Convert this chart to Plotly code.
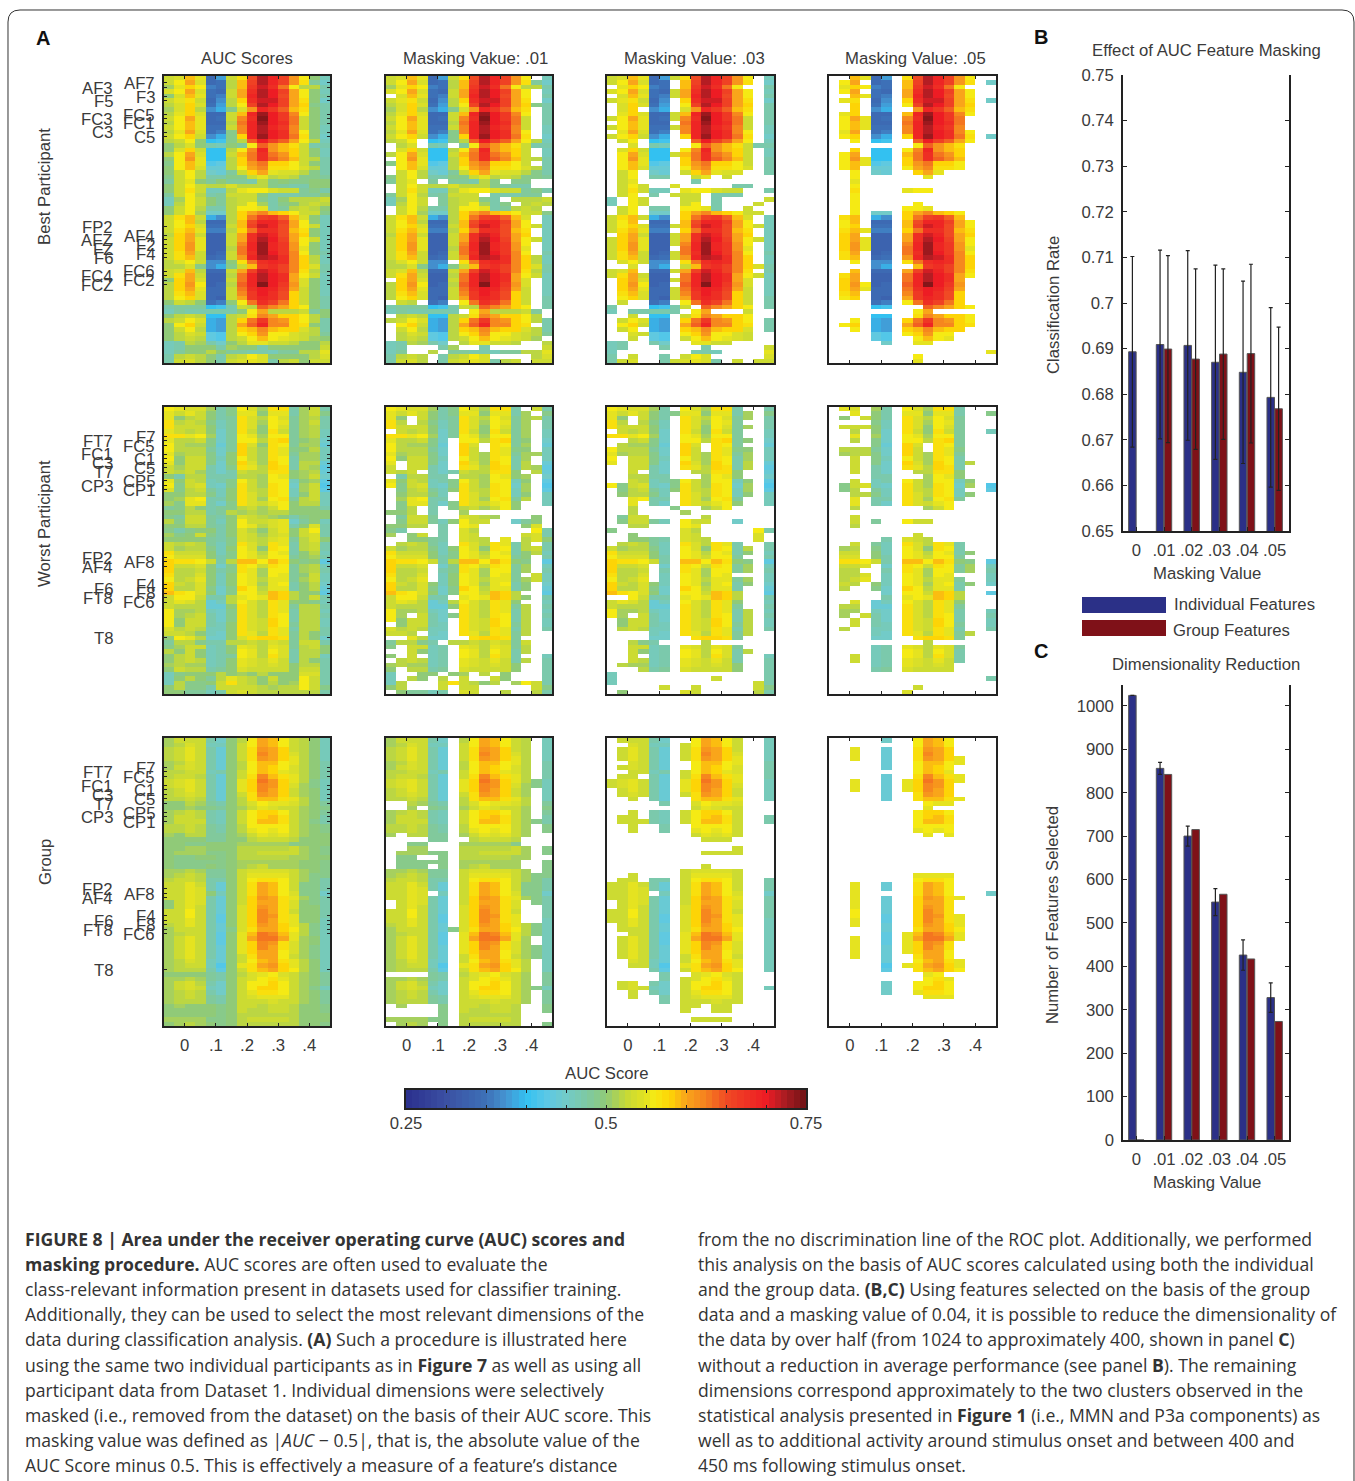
import numpy as np
import plotly.graph_objects as go

W, H = 1355, 1481
FONT = "Liberation Sans"
TXT = "#3a3a3a"

# ---- AUC scores in hundredths, 64 channels (rows) x 16 time points (columns)
BEST = [
[53,54,59,55,34,38,53,57,65,72,69,66,61,56,50,46],
[53,56,60,54,34,35,52,59,66,72,69,66,61,57,48,45],
[51,55,58,56,36,35,52,59,67,71,68,63,56,52,52,47],
[54,56,60,54,35,34,53,60,68,72,70,66,60,56,50,46],
[50,54,59,55,35,36,53,60,69,72,70,65,60,56,50,47],
[53,55,57,53,34,37,52,58,68,71,71,66,60,57,50,45],
[52,54,58,54,35,38,52,56,66,72,70,66,60,58,49,47],
[51,54,58,52,37,39,49,54,61,69,67,64,59,57,50,47],
[52,55,58,54,34,34,53,59,69,73,70,67,62,56,50,47],
[53,56,60,55,34,35,53,62,68,74,70,67,63,53,50,47],
[52,56,59,55,34,34,52,63,69,73,70,68,63,53,50,47],
[53,56,59,55,35,35,53,62,69,72,69,67,62,53,50,46],
[52,55,60,54,35,36,49,62,69,72,70,68,62,56,50,46],
[53,56,58,53,37,39,49,58,69,73,70,68,63,57,50,45],
[52,53,56,50,40,41,49,52,64,70,66,64,60,56,52,46],
[50,52,54,50,47,46,50,48,56,64,61,59,57,53,47,47],
[50,54,58,53,40,40,52,56,62,69,61,59,58,53,50,46],
[52,56,60,54,40,40,53,59,63,68,63,61,58,53,50,46],
[50,56,61,55,40,40,52,58,63,68,64,62,59,53,52,47],
[49,56,59,55,42,43,52,58,61,63,58,58,56,53,50,47],
[50,56,59,54,44,44,52,56,60,62,57,57,56,54,52,47],
[50,53,56,52,45,44,48,53,58,60,55,54,54,52,49,47],
[49,53,56,52,47,47,49,49,53,55,52,53,52,49,49,48],
[48,53,55,50,48,50,48,48,47,52,49,50,49,49,50,50],
[50,53,56,53,52,52,54,52,52,52,49,48,47,47,50,50],
[50,53,57,53,46,46,52,55,56,56,54,53,53,48,49,47],
[48,53,56,52,47,48,53,53,53,50,47,47,47,48,48,50],
[46,51,56,53,50,48,52,53,53,49,47,50,52,52,52,53],
[46,52,56,53,50,48,52,53,56,51,47,49,50,52,53,52],
[50,53,56,52,47,47,52,56,56,55,47,48,52,53,52,50],
[50,53,56,51,45,45,52,58,60,62,59,58,56,53,53,49],
[53,57,59,53,39,37,52,58,63,66,67,64,59,54,50,46],
[53,56,59,52,34,34,52,59,65,69,69,66,60,56,50,46],
[53,56,58,54,35,35,53,59,66,71,69,65,60,56,53,46],
[53,57,59,55,36,36,52,58,63,68,68,65,59,57,50,46],
[52,58,60,53,33,33,53,60,68,71,69,65,60,58,50,46],
[53,58,60,55,33,33,53,60,68,72,70,66,60,56,53,46],
[53,58,61,55,33,33,53,62,69,73,69,67,61,56,50,46],
[53,58,61,55,33,33,52,63,69,73,69,67,61,55,50,46],
[53,57,60,53,33,34,53,63,68,73,70,67,62,56,50,47],
[53,57,59,53,34,35,53,61,69,72,71,68,62,58,52,46],
[52,54,56,53,37,37,50,57,63,68,69,68,62,58,52,46],
[52,52,54,49,37,39,49,53,59,67,68,66,62,58,54,47],
[53,54,59,52,34,34,53,60,66,71,69,66,62,57,52,47],
[53,57,60,53,33,33,52,63,69,72,70,68,60,56,53,46],
[50,58,60,54,33,33,53,63,69,72,70,68,60,54,50,46],
[52,58,61,56,33,34,52,64,69,74,70,67,61,54,50,46],
[52,58,60,55,34,34,53,63,68,70,69,66,60,53,50,46],
[52,57,59,54,34,34,53,62,67,70,68,65,58,53,50,46],
[52,56,58,54,34,33,53,60,67,69,68,65,58,53,50,47],
[50,53,52,50,35,36,50,56,63,68,66,63,58,53,50,47],
[47,48,48,48,40,41,47,53,52,64,62,60,58,56,50,47],
[46,48,47,47,47,47,47,50,56,60,52,52,52,53,48,50],
[50,52,53,52,40,40,52,53,57,62,60,58,58,56,52,50],
[52,53,56,54,39,38,52,58,63,67,62,61,58,56,52,47],
[50,56,58,53,39,38,52,60,64,69,62,62,58,57,50,47],
[50,53,56,52,39,38,52,58,59,62,59,58,58,54,52,47],
[50,52,54,53,43,42,52,56,58,61,56,56,54,53,52,48],
[50,52,53,52,43,42,52,53,56,59,56,55,54,53,51,50],
[46,47,52,51,47,45,50,52,55,55,53,53,52,50,50,52],
[46,47,50,50,50,47,51,50,50,47,50,50,50,50,50,53],
[46,48,50,50,52,50,48,48,47,47,46,48,48,52,52,55],
[47,52,53,52,50,47,52,53,56,54,50,50,50,50,52,54],
[47,53,54,52,50,47,53,54,55,54,47,52,53,50,53,53],
]

WORST = [
[56,55,54,54,51,47,49,56,54,51,57,57,47,51,53,47],
[55,53,55,53,50,47,49,55,55,50,55,55,47,51,53,49],
[55,50,52,53,50,47,48,57,54,52,56,54,48,51,52,47],
[57,52,53,52,49,46,48,57,54,51,56,55,48,51,53,47],
[57,53,53,53,50,46,48,57,54,50,56,54,48,51,52,47],
[55,53,52,53,50,45,48,57,53,50,57,53,48,51,52,46],
[57,57,55,56,51,45,48,56,55,51,56,56,48,51,52,46],
[55,52,52,53,49,45,48,56,56,52,57,58,48,50,51,45],
[56,52,51,51,49,44,48,58,54,50,57,56,48,51,51,44],
[56,52,52,52,48,45,48,58,53,51,57,55,49,50,52,46],
[55,51,52,52,49,45,50,58,53,51,57,55,48,51,51,46],
[56,50,53,53,49,46,50,56,53,51,57,56,47,51,51,46],
[55,50,53,53,49,45,50,58,54,51,58,56,47,52,52,44],
[53,51,53,53,47,45,49,57,55,52,58,57,47,52,51,43],
[53,52,53,51,47,45,47,53,52,52,57,57,50,51,52,44],
[50,47,52,52,47,47,47,52,52,51,56,55,50,51,53,45],
[55,50,53,52,46,47,49,56,53,51,56,56,46,50,51,43],
[56,49,53,54,46,45,49,57,53,51,57,56,45,51,53,42],
[54,49,52,53,48,46,50,57,53,52,57,56,46,51,53,43],
[50,50,52,52,49,46,50,57,54,52,57,56,46,50,53,46],
[50,51,55,56,47,47,50,57,54,51,56,57,48,52,53,46],
[51,49,55,55,47,45,49,57,54,53,55,56,50,52,52,46],
[48,49,52,50,47,48,49,52,53,51,53,56,50,50,50,47],
[50,50,52,52,47,48,52,51,52,51,52,52,50,50,50,50],
[49,48,53,53,48,47,50,54,53,52,51,50,47,49,50,50],
[52,49,53,53,48,46,50,56,53,53,54,55,45,48,50,46],
[50,50,52,52,48,47,50,56,55,52,54,55,47,50,54,47],
[49,47,49,50,50,47,50,54,52,50,53,55,50,53,56,47],
[51,49,50,53,49,47,50,54,53,51,53,54,50,53,54,47],
[50,50,50,50,48,47,49,54,53,52,54,55,48,52,54,50],
[53,52,53,52,48,46,49,57,54,52,57,55,47,52,53,47],
[53,51,52,52,49,46,50,56,54,50,57,56,47,52,53,47],
[57,53,53,53,50,46,49,56,55,52,56,55,47,50,52,46],
[56,54,54,54,50,47,49,56,55,53,56,56,48,50,51,47],
[58,57,57,56,53,47,52,59,59,56,59,57,50,49,50,43],
[58,53,53,54,50,45,49,57,56,53,57,56,48,51,52,46],
[58,52,52,53,50,47,49,57,55,51,56,56,48,51,52,47],
[57,52,52,54,50,46,50,56,55,51,56,55,48,50,53,46],
[56,52,53,55,50,46,50,56,55,52,55,55,48,51,53,46],
[58,53,52,54,50,46,50,56,55,51,55,56,47,50,52,45],
[58,52,52,54,49,45,49,58,56,52,55,55,47,50,52,44],
[59,57,56,54,50,45,49,56,56,53,59,58,52,50,50,43],
[53,56,56,53,47,47,52,55,56,55,59,58,52,50,53,47],
[53,55,54,52,44,46,52,56,54,52,57,55,50,50,49,46],
[53,52,52,52,44,44,50,57,54,52,57,55,48,52,52,47],
[56,51,51,52,46,45,49,57,54,52,57,55,47,52,52,46],
[56,51,52,53,47,45,49,57,54,52,57,56,47,52,52,47],
[56,50,53,53,47,45,49,57,54,53,58,56,47,52,52,46],
[56,50,53,53,47,46,50,57,54,53,58,56,48,52,52,46],
[54,52,53,52,46,46,50,57,54,53,57,55,47,52,52,47],
[53,53,52,50,46,45,50,57,55,52,57,55,48,52,50,47],
[50,56,55,52,45,45,50,54,57,58,58,57,48,52,50,45],
[48,52,52,49,47,47,52,52,53,52,54,53,48,53,53,47],
[49,51,53,53,46,47,50,55,54,52,55,54,48,52,53,50],
[52,50,53,50,46,47,50,56,55,52,56,54,47,52,52,50],
[50,52,53,50,46,47,48,56,55,52,57,54,47,52,52,46],
[50,52,53,52,46,47,50,55,54,53,55,53,47,52,50,47],
[51,52,51,51,46,47,50,55,54,53,54,53,50,52,52,47],
[50,53,52,52,47,48,50,54,53,53,53,53,50,53,53,47],
[46,49,50,50,50,52,50,51,50,52,50,50,50,54,54,47],
[46,50,52,50,48,52,55,53,52,50,53,50,50,56,53,47],
[46,52,49,49,50,53,57,53,52,50,52,50,51,56,53,47],
[50,52,49,49,47,53,53,53,53,52,51,52,52,56,53,49],
[50,50,48,48,46,47,53,54,53,52,52,52,52,52,52,47],
]

# worst participant: the last masking panel in which each cell is still shown
# (0 = white everywhere, 1 = only .01, 2 = .01 and .03, 3 = all three)
WORST_SHOWN = [
"2332331333333012","2232332333333203","2303331333333212","2202331333333102",
"2333331333333202","0232331333333103","2232331333333102","1132330333333202",
"1222330330333102","2333330330333202","2333330333333212","2132330333333202",
"2032330333333302","1032330333333212","1130331133333012","0122330113333102",
"1132332333333302","2333332333333303","0332332333333203","0233330333333302",
"0132330333333102","0131331333332002","0130102113331000","1120100200000000",
"0232100112100010","0232321333002110","1132010220000110","2100010220000022",
"1021010230000121","0022230333010121","0232330333333102","2332331333333212",
"2332331333333312","2332331333333102","2333331333333303","2333031333333303",
"2332031333333303","2333031333331013","2333031333333213","2332331333333303",
"2322331333333102","2222231333333003","1122230333333102","2232331333333002",
"2332331333333102","2332330333333203","2303331333333203","1232330333333203",
"0232330333333203","1322330333333203","1110330333333300","0011330033333000",
"1122201113111100","1022330333333100","0022330333333200","1030330333333002",
"0132330333333102","1222330333332002","1012330333332002","2001101101010002",
"2011010100210003","2100011111101122","1100020130000022","0211110320010022",
]

GROUP = [
[51,53,53,53,47,45,50,52,56,60,59,56,53,52,50,46],
[51,52,54,53,46,46,50,53,56,60,59,56,53,52,50,46],
[52,53,55,53,47,44,50,53,57,61,60,58,53,52,50,46],
[52,53,55,53,47,44,50,53,57,62,60,58,54,52,50,46],
[52,53,55,53,47,44,50,53,57,61,60,58,55,52,50,46],
[51,52,54,53,47,44,50,52,56,59,59,56,55,52,50,47],
[51,53,54,53,47,44,50,52,56,59,58,56,54,52,50,47],
[52,52,53,53,46,47,50,53,56,59,58,55,54,52,50,47],
[52,53,53,52,47,44,50,53,57,62,59,57,55,52,50,47],
[53,54,55,53,47,44,50,55,58,63,61,58,55,52,49,46],
[53,54,55,53,47,44,50,55,58,62,61,58,54,51,49,46],
[52,53,55,53,47,44,50,55,58,62,60,58,53,51,50,46],
[52,53,54,53,47,44,50,53,57,61,60,58,53,51,50,46],
[52,52,53,52,47,44,50,52,57,59,59,57,55,52,50,46],
[50,50,52,51,48,47,50,52,54,56,55,55,54,52,50,48],
[50,50,51,50,49,48,50,51,53,55,54,53,53,51,50,49],
[51,52,53,52,47,46,50,53,56,58,58,56,53,51,50,48],
[51,53,53,52,47,46,50,53,56,58,59,57,53,51,50,47],
[51,53,53,53,47,46,50,53,56,59,59,57,53,51,49,47],
[52,52,53,52,48,47,50,52,56,56,56,56,53,51,50,49],
[52,52,53,52,48,47,50,52,55,56,55,56,53,51,50,49],
[51,50,52,52,48,48,50,51,53,55,54,55,53,51,50,50],
[50,50,50,50,48,48,50,50,52,53,53,53,52,50,50,50],
[50,50,49,49,50,50,50,51,51,51,51,51,49,50,50,50],
[50,50,51,51,50,50,50,52,52,52,52,52,53,51,50,49],
[50,51,51,51,49,49,50,52,52,53,53,53,53,51,50,49],
[50,49,49,50,50,49,50,52,52,52,52,52,51,51,50,50],
[50,49,49,49,49,49,50,51,51,51,51,51,51,50,50,49],
[50,49,49,49,50,49,50,51,52,53,51,51,51,50,50,49],
[51,51,52,51,48,48,50,53,54,54,54,54,53,51,50,49],
[51,52,53,52,48,48,50,53,55,55,55,55,53,51,49,49],
[52,53,53,52,47,47,50,53,56,57,57,56,53,51,49,47],
[53,53,55,53,47,44,50,53,57,60,59,56,53,49,49,47],
[53,53,55,54,47,44,50,53,57,60,59,56,53,49,49,47],
[53,53,55,54,50,46,50,53,57,60,59,56,54,49,49,45],
[53,53,55,54,47,44,50,53,58,61,60,57,55,51,49,47],
[50,53,55,54,47,44,50,53,58,60,60,57,54,50,49,47],
[50,53,55,53,47,44,50,54,58,61,60,57,54,50,50,47],
[53,53,56,53,47,44,50,54,58,62,60,57,53,50,50,47],
[53,53,56,53,47,43,50,54,58,62,61,57,55,50,50,47],
[53,53,55,53,47,43,50,54,58,62,60,57,55,50,50,46],
[52,53,55,53,47,44,50,54,58,61,60,58,55,52,49,46],
[51,53,53,53,47,44,49,54,57,60,60,58,56,52,49,46],
[51,52,53,53,47,43,50,55,59,63,62,59,55,52,49,46],
[51,53,55,53,47,43,50,55,60,63,63,60,55,51,50,46],
[51,53,55,53,47,43,50,55,58,62,61,57,54,51,50,46],
[51,53,55,53,47,44,50,55,58,62,60,57,54,51,49,46],
[51,53,55,53,47,44,50,55,58,60,60,56,54,51,49,46],
[51,53,55,53,47,44,50,53,57,60,60,56,53,51,49,46],
[51,52,54,53,46,44,50,53,56,59,60,57,55,52,50,46],
[51,52,53,53,46,42,50,55,57,60,61,58,55,52,50,46],
[51,52,52,52,47,43,50,53,57,59,60,58,56,52,50,46],
[50,50,50,50,48,47,50,52,54,55,56,54,53,51,50,48],
[51,51,52,51,48,47,50,53,54,56,57,55,53,51,50,48],
[51,53,54,52,47,45,50,53,56,56,58,56,53,51,50,48],
[51,53,54,53,46,45,50,53,56,58,58,56,53,51,49,46],
[51,52,53,52,47,45,50,53,55,57,57,56,53,51,50,48],
[51,52,53,52,48,47,50,53,54,55,55,55,53,51,50,48],
[51,52,52,52,48,47,50,53,53,53,54,53,53,51,50,48],
[50,51,50,50,50,49,50,53,53,52,53,53,52,50,50,49],
[50,50,50,50,50,49,50,53,52,52,53,53,52,50,50,49],
[50,50,50,50,50,49,50,52,52,52,52,52,52,50,50,50],
[51,51,51,51,49,49,50,52,53,53,53,53,52,50,50,50],
[50,51,52,51,50,49,50,52,52,52,52,52,52,50,50,49],
]

TIME_TICKS = [0, 0.1, 0.2, 0.3, 0.4]
TIME_LABELS = ["0", ".1", ".2", ".3", ".4"]
MASK_VALUES = [0.01, 0.03, 0.05]
PANEL_TITLES = ["AUC Scores", "Masking Vakue: .01", "Masking Value: .03", "Masking Value: .05"]
ROW_TITLES = ["Best Participant", "Worst Participant", "Group"]

# channel labels: (name, row, stagger column 0 = far left, 1 = next to the axis)
CHANNELS_BEST = [("AF7",1,1),("AF3",2,0),("F3",4,1),("F5",5,0),("FC5",8,1),("FC3",9,0),("FC1",10,1),
                 ("C3",12,0),("C5",13,1),("FP2",33,0),("AF4",35,1),("AFZ",36,0),("F2",37,1),("FZ",38,0),
                 ("F4",39,1),("F6",40,0),("FC6",43,1),("FC4",44,0),("FC2",45,1),("FCZ",46,0)]
CHANNELS_OTHER = [("F7",6,1),("FT7",7,0),("FC5",8,1),("FC1",10,0),("C1",11,1),("C3",12,0),("C5",13,1),
                  ("T7",14,0),("CP5",16,1),("CP3",17,0),("CP1",18,1),("FP2",33,0),("AF8",34,1),("AF4",35,0),
                  ("F4",39,1),("F6",40,0),("F8",41,1),("FT8",42,0),("FC6",43,1),("T8",51,0)]

MASKING_LABELS = ["0", ".01", ".02", ".03", ".04", ".05"]
RATE_INDIVIDUAL = [0.6893, 0.6909, 0.6907, 0.6870, 0.6848, 0.6793]
RATE_INDIVIDUAL_ERR = [0.0209, 0.0207, 0.0208, 0.0213, 0.0200, 0.0197]
RATE_GROUP = [0, 0.6899, 0.6877, 0.6888, 0.6889, 0.6768]
RATE_GROUP_ERR = [0, 0.0205, 0.0198, 0.0187, 0.0196, 0.0179]
COUNT_INDIVIDUAL = [1024, 856, 700, 548, 426, 328]
COUNT_INDIVIDUAL_ERR = [0, 14, 23, 31, 35, 34]
COUNT_GROUP = [0, 842, 715, 566, 417, 273]
RATE_TICKS = [0.65, 0.66, 0.67, 0.68, 0.69, 0.70, 0.71, 0.72, 0.73, 0.74, 0.75]
RATE_TICK_LABELS = ["0.65", "0.66", "0.67", "0.68", "0.69", "0.7", "0.71", "0.72", "0.73", "0.74", "0.75"]
COUNT_TICKS = [0, 100, 200, 300, 400, 500, 600, 700, 800, 900, 1000]

CAPTION_LEFT = [
"<b>FIGURE 8 | Area under the receiver operating curve (AUC) scores and</b>",
"<b>masking procedure.</b> AUC scores are often used to evaluate the",
"class-relevant information present in datasets used for classifier training.",
"Additionally, they can be used to select the most relevant dimensions of the",
"data during classification analysis. <b>(A)</b> Such a procedure is illustrated here",
"using the same two individual participants as in <b>Figure 7</b> as well as using all",
"participant data from Dataset 1. Individual dimensions were selectively",
"masked (i.e., removed from the dataset) on the basis of their AUC score. This",
"masking value was defined as |<i>AUC</i> − 0.5|, that is, the absolute value of the",
"AUC Score minus 0.5. This is effectively a measure of a feature’s distance",
]
CAPTION_RIGHT = [
"from the no discrimination line of the ROC plot. Additionally, we performed",
"this analysis on the basis of AUC scores calculated using both the individual",
"and the group data. <b>(B,C)</b> Using features selected on the basis of the group",
"data and a masking value of 0.04, it is possible to reduce the dimensionality of",
"the data by over half (from 1024 to approximately 400, shown in panel <b>C</b>)",
"without a reduction in average performance (see panel <b>B</b>). The remaining",
"dimensions correspond approximately to the two clusters observed in the",
"statistical analysis presented in <b>Figure 1</b> (i.e., MMN and P3a components) as",
"well as to additional activity around stimulus onset and between 400 and",
"450 ms following stimulus onset.",
]

AUC_STOPS = [(.25,"#2b2f8d"),(.30,"#3b50a3"),(.35,"#3d70b7"),(.375,"#4595d2"),(.40,"#33c1f1"),
             (.425,"#5bc8e6"),(.45,"#72cbc8"),(.475,"#7dc9a5"),(.50,"#90ca78"),(.525,"#c6d936"),
             (.55,"#e5e320"),(.56,"#f5ea14"),(.58,"#fdd406"),(.60,"#f9a51a"),(.625,"#f5801f"),
             (.65,"#f04a24"),(.70,"#ed1c24"),(.72,"#b41d23"),(.75,"#6d1214")]
COLORSCALE = [[(v-.25)/.5, c] for v, c in AUC_STOPS]
BLUE, RED = "#2b3087", "#7f1118"

# ---- layout helpers (pixel positions -> paper fractions)
px = lambda x: x / W
py = lambda y: 1 - y / H
annotations, shapes = [], []
LABEL = 16.7

def text(x, y, s, size=LABEL, anchor="center", angle=0, color=TXT, family=FONT):
    annotations.append(dict(x=px(x), y=py(y), xref="paper", yref="paper", text=s, showarrow=False,
                            xanchor=anchor, yanchor="middle", textangle=angle,
                            font=dict(size=size, color=color, family=family)))

fig = go.Figure()
layout = {}
axis_style = dict(showline=True, linecolor="#222", linewidth=1.5, mirror="ticks", ticks="inside",
                  tickcolor="#222", tickwidth=1, ticklen=3, showgrid=False, zeroline=False, automargin=False,
                  tickfont=dict(size=LABEL, color=TXT, family=FONT), layer="above traces")

COL_X = [(164, 330), (386, 552), (607, 774), (829, 996)]
ROW_Y = [(76, 363), (407, 694), (738, 1026)]
ROW_TITLE_Y = [187, 524, 862]
TITLE_X = [247, 475, 694.5, 916]
time_centres = [-0.05 + i / 30 for i in range(16)]

def add_axes(n, xd, yd, xopts, yopts):
    s = "" if n == 1 else str(n)
    layout["xaxis" + s] = {**axis_style, "domain": [px(xd[0]), px(xd[1])], "anchor": "y" + s, **xopts}
    layout["yaxis" + s] = {**axis_style, "domain": [py(yd[1]), py(yd[0])], "anchor": "x" + s, **yopts}
    return "x" + s, "y" + s

worst_shown = np.array([[int(c) for c in row] for row in WORST_SHOWN])
matrices = [np.array(BEST) / 100, np.array(WORST) / 100, np.array(GROUP) / 100]
channels = [CHANNELS_BEST, CHANNELS_OTHER, CHANNELS_OTHER]

n = 0
for r, (matrix, chans, yd) in enumerate(zip(matrices, channels, ROW_Y)):
    rows = [c[1] for c in chans]
    for c, xd in enumerate(COL_X):
        n += 1
        if c == 0:
            z = matrix
        elif r == 1:
            z = np.where(worst_shown >= c, matrix, np.nan)
        else:
            z = np.where(np.abs(matrix - .5) >= MASK_VALUES[c - 1] - 1e-9, matrix, np.nan)
        xa, ya = add_axes(n, xd, yd,
                          dict(range=[-1/15, 7/15], tickvals=TIME_TICKS, ticktext=TIME_LABELS,
                               showticklabels=r == 2, tickangle=0, ticklabelstandoff=3),
                          dict(range=[63.5, -0.5], tickvals=rows if c == 0 else [], showticklabels=False))
        fig.add_trace(go.Heatmap(z=z.tolist(), x=time_centres, y=list(range(64)), xaxis=xa, yaxis=ya,
                                 colorscale=COLORSCALE, zmin=.25, zmax=.75, showscale=False,
                                 hoverongaps=False))
        if c == 0:
            for name, row, col in chans:
                annotations.append(dict(x=px(115 if col == 0 else 157), y=row + 0.2, xref="paper", yref=ya, text=name,
                                        showarrow=False, xanchor="right", yanchor="middle",
                                        font=dict(size=LABEL, color=TXT, family=FONT)))
    text(45, ROW_TITLE_Y[r], ROW_TITLES[r], angle=-90)

for x, t in zip(TITLE_X, PANEL_TITLES):
    text(x, 58, t)

# colour bar
n += 1
levels = np.linspace(.25 + .25 / 64, .75 - .25 / 64, 64)
xa, ya = add_axes(n, (406, 806), (1090, 1108),
                  dict(range=[.25, .75], tickvals=[.25 + .05 * i for i in range(11)],
                       ticktext=["0.25", "", "", "", "", "0.5", "", "", "", "", "0.75"], tickangle=0,
                       ticklabelstandoff=-1),
                  dict(range=[0, 1], tickvals=[], showticklabels=False))
fig.add_trace(go.Heatmap(z=[levels.tolist()], x=levels.tolist(), y=[.5], xaxis=xa, yaxis=ya,
                         colorscale=COLORSCALE, zmin=.25, zmax=.75, showscale=False))
text(606, 1073, "AUC Score")

# bar charts
def bars(n, xd, yd, yrange, ticks, labels, a, ae, b, be):
    xa, ya = add_axes(n, xd, yd,
                      dict(range=[-0.482, 5.518], tickmode="array", tickvals=list(range(6)),
                           ticktext=MASKING_LABELS, tickangle=0, mirror=False, ticklen=4, ticklabelstandoff=3),
                      dict(range=yrange, tickmode="array", tickvals=ticks, ticktext=labels, ticklen=4,
                           ticklabelstandoff=4))
    layout["xaxis" + str(n)]["side"] = "bottom"
    err = dict(type="data", thickness=1.2, width=2, color="#222")
    fig.add_trace(go.Bar(x=list(range(6)), y=a, xaxis=xa, yaxis=ya, marker=dict(color=BLUE, line=dict(color="#555", width=1)),
                         error_y=dict(array=ae, **err), offsetgroup="a"))
    tr = dict(error_y=dict(array=be, **err)) if be else {}
    fig.add_trace(go.Bar(x=list(range(6)), y=b, xaxis=xa, yaxis=ya, marker=dict(color=RED, line=dict(color="#555", width=1)),
                         offsetgroup="b", **tr))

bars(n + 1, (1123, 1289), (75, 531), [.65, .75], RATE_TICKS, RATE_TICK_LABELS,
     RATE_INDIVIDUAL, RATE_INDIVIDUAL_ERR, RATE_GROUP, RATE_GROUP_ERR)
bars(n + 2, (1123, 1289), (685, 1140), [0, 1048], COUNT_TICKS, [str(v) for v in COUNT_TICKS],
     COUNT_INDIVIDUAL, COUNT_INDIVIDUAL_ERR, COUNT_GROUP, None)

text(1206, 50, "Effect of AUC Feature Masking")
text(1206, 664, "Dimensionality Reduction")
text(1053, 305, "Classification Rate", angle=-90)
text(1053, 915, "Number of Features Selected", angle=-90)
text(1207, 573, "Masking Value")
text(1207, 1182, "Masking Value")
for yy, col, lab, lx in [(605, BLUE, "Individual Features", 1172), (628, RED, "Group Features", 1171)]:
    shapes.append(dict(type="rect", xref="paper", yref="paper", x0=px(1082), x1=px(1166), y0=py(yy - 8), y1=py(yy + 8),
                       fillcolor=col, line=dict(width=0)))
    text(lx, yy + (-1 if col == BLUE else 2), lab, anchor="left")

for x, y, s in [(43, 38, "A"), (1041, 37, "B"), (1041, 651, "C")]:
    text(x, y, "<b>%s</b>" % s, size=20, color="#111")

for lines, x0 in [(CAPTION_LEFT, 23), (CAPTION_RIGHT, 696)]:
    for i, line in enumerate(lines):
        text(x0, 1238.5 + 25.2 * i, line, size=17.6, anchor="left", color="#333", family="Open Sans")

# page frame
def fx(x): return f"{px(x):.5f}"
def fy(y): return f"{py(y):.5f}"
frame = (f"M {fx(8)},{fy(1481)} L {fx(8)},{fy(22)} Q {fx(8)},{fy(10)} {fx(20)},{fy(10)} "
         f"L {fx(1342)},{fy(10)} Q {fx(1354)},{fy(10)} {fx(1354)},{fy(22)} L {fx(1354)},{fy(1481)}")
shapes.append(dict(type="path", xref="paper", yref="paper", path=frame, line=dict(color="#333", width=1)))

fig.update_layout(width=W, height=H, margin=dict(l=0, r=0, t=0, b=0), autosize=False,
                  paper_bgcolor="white", plot_bgcolor="white", showlegend=False,
                  barmode="group", bargap=0.43, bargroupgap=0.05,
                  annotations=annotations, shapes=shapes, **layout)

fig.write_html("out.html", post_script="document.body.style.margin='0';", config={"displayModeBar": False})
